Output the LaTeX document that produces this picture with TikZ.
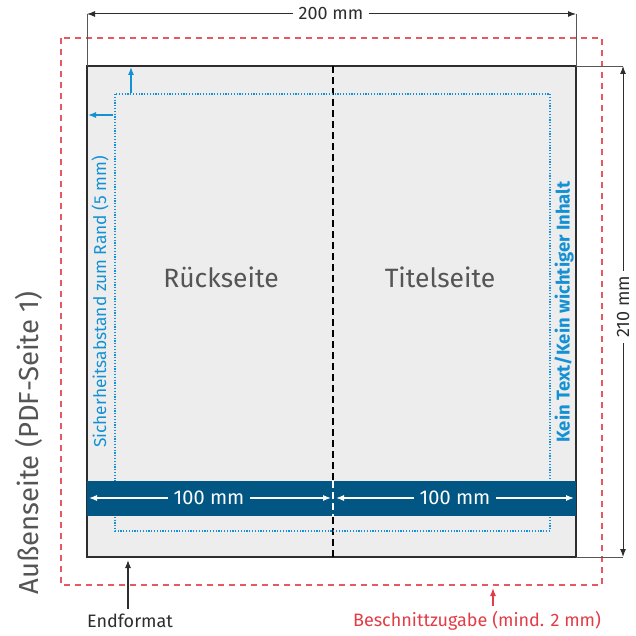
\documentclass[tikz,border=0pt]{standalone}
\usepackage{fontspec}
\setmainfont{Fira Sans}
\usetikzlibrary{arrows.meta}
\definecolor{bandblue}{RGB}{2,86,132}
\definecolor{safeblue}{RGB}{20,145,212}
\definecolor{bleedred}{RGB}{226,60,70}
\definecolor{sheetgray}{RGB}{237,237,237}
\definecolor{linegray}{RGB}{45,45,45}
\definecolor{textgray}{RGB}{85,85,85}

\begin{document}
\begin{tikzpicture}[x=1pt, y=-1pt, >={Latex[length=8pt,width=6pt]},
    bleed/.style={draw=bleedred!85, line width=1.3pt, dash pattern=on 6pt off 5pt},
    sheet/.style={draw=linegray, fill=sheetgray, line width=1.8pt},
    safety/.style={draw=safeblue, line width=1.3pt, dash pattern=on 1.2pt off 1.6pt},
    fold/.style={line width=2.5pt, dash pattern=on 7pt off 4pt},
    dimline/.style={draw=linegray, line width=1pt},
    extline/.style={draw=linegray!80, line width=0.8pt},
    dimtext/.style={font=\fontsize{18}{20}\selectfont, text=linegray, inner sep=5pt},
    bandtext/.style={font=\fontsize{20}{22}\selectfont, text=white, inner sep=6pt},
    pagetext/.style={font=\fontsize{26.5}{30}\selectfont, text=textgray}]

    % constants
    \def\xl{87}
    \def\xr{576}
    \def\yt{66}
    \def\yb{557}
    \def\xm{333}

    \useasboundingbox (0,0) rectangle (636,636);

    % corners
    \coordinate (tl) at (\xl,\yt);
    \coordinate (tr) at (\xr,\yt);
    \coordinate (bl) at (\xl,\yb);
    \coordinate (br) at (\xr,\yb);

    % Beschnitt (bleed)
    \draw[bleed] (61,38) rectangle (602,585);

    % Endformat
    \draw[sheet] (tl) rectangle (br);

    % fold line
    \draw[fold] (\xm,\yt) -- (\xm,\yb);

    % safety margin
    \draw[safety] (115,94) rectangle (550,531);
    \draw[->, safeblue, line width=1.2pt] (131,93) -- (131,67);
    \draw[->, safeblue, line width=1.2pt] (113,115) -- (88,115);

    % blue band
    \fill[bandblue] (\xl,481) rectangle (\xr,516);
    \draw[white, line width=2pt, dash pattern=on 7pt off 4pt] (\xm,481) -- (\xm,516);

    % page names
    \node[pagetext] (back) at (221,277) {Rückseite};
    \node[pagetext] (front) at (440,277) {Titelseite};

    % vertical labels
    \node[rotate=90, text=safeblue, font=\fontsize{17.3}{19}\selectfont] (safe) at (100,302) {Sicherheitsabstand zum Rand (5 mm)};
    \node[rotate=90, text=safeblue, font=\fontsize{18.5}{20}\selectfont\bfseries] (nocont) at (564,312) {Kein Text/Kein wichtiger Inhalt};
    \node[rotate=90, text=textgray, font=\fontsize{27.5}{30}\selectfont] (outer) at (29,443) {Außenseite (PDF-Seite 1)};

    % 200 mm
    \coordinate (d200l) at (\xl,14);
    \coordinate (d200r) at (\xr,14);
    \node[dimtext] (w200) at (331,14) {200 mm};
    \draw[->, dimline] (w200.west) -- (d200l);
    \draw[->, dimline] (w200.east) -- (d200r);
    \draw[extline] (d200l) -- (tl);
    \draw[extline] (d200r) -- (tr);

    % 210 mm
    \coordinate (d210t) at (623,\yt);
    \coordinate (d210b) at (623,\yb);
    \node[dimtext, rotate=90] (w210) at (623,307) {210 mm};
    \draw[->, dimline] (w210.east) -- (d210t);
    \draw[->, dimline] (w210.west) -- (d210b);
    \draw[extline] (tr) -- (d210t);
    \draw[extline] (br) -- (d210b);

    % 100 mm (back)
    \node[bandtext] (w100a) at (209,498) {100 mm};
    \draw[->, white, line width=1.2pt] (w100a.west) -- (89,498);
    \draw[->, white, line width=1.2pt] (w100a.east) -- (331,498);

    % 100 mm (front)
    \node[bandtext] (w100b) at (455,498) {100 mm};
    \draw[->, white, line width=1.2pt] (w100b.west) -- (336,498);
    \draw[->, white, line width=1.2pt] (w100b.east) -- (574,498);

    % bottom labels
    \node[dimtext] (endf) at (130,621) {Endformat};
    \coordinate (endtip) at (128,560);
    \draw[->, dimline, line width=1.2pt] (endf.north -| endtip) -- (endtip);

    \node[dimtext, text=bleedred] (besch) at (477,621) {Beschnittzugabe (mind. 2 mm)};
    \coordinate (beschtip) at (493,588);
    \draw[->, draw=bleedred, line width=1.2pt] (besch.north -| beschtip) -- (beschtip);

\end{tikzpicture}
\end{document}
